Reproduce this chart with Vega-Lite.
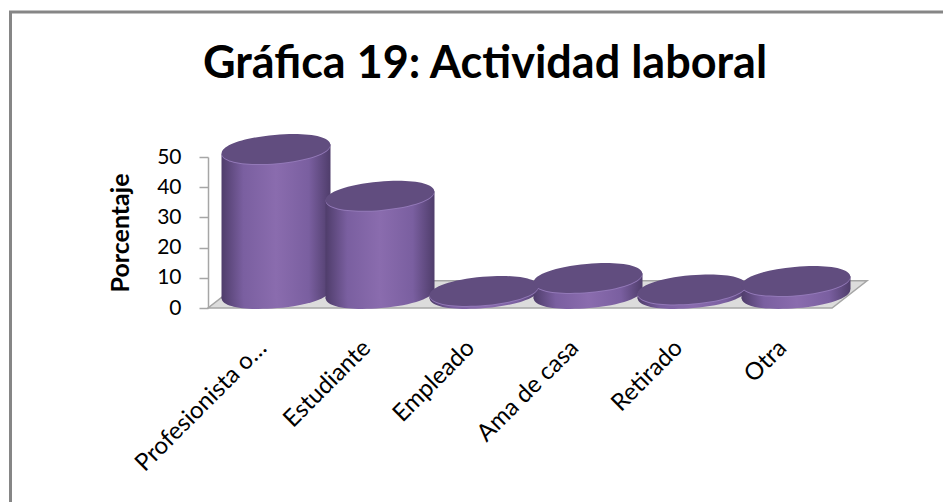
{
  "$schema": "https://vega.github.io/schema/vega-lite/v6.json",
  "width": 945, "height": 500,
  "autosize": "none",
  "padding": {"left": 10.5, "top": 12, "right": 0, "bottom": 0},
  "background": "white",
  "view": {"stroke": "#868686", "strokeWidth": 3, "fill": "white"},
  "title": {"text": "Gráfica 19: Actividad laboral", "font": "Lato", "fontSize": 45, "fontWeight": "bold", "color": "#000000", "anchor": "middle", "offset": -75, "dx": 2},
  "datasets": {
    "activity": [
      {"actividad": "Profesionista o…", "porcentaje": 48},
      {"actividad": "Estudiante", "porcentaje": 32.5},
      {"actividad": "Empleado", "porcentaje": 1},
      {"actividad": "Ama de casa", "porcentaje": 5.3},
      {"actividad": "Retirado", "porcentaje": 1.5},
      {"actividad": "Otra", "porcentaje": 4.3}
    ],
    "floor": [
      {"f": 0, "front": 0, "back": 0},
      {"f": 0.053, "front": 0, "back": 9},
      {"f": 0.947, "front": 0, "back": 9},
      {"f": 1, "front": 9, "back": 9}
    ]
  },
  "resolve": {"scale": {"x": "independent"}},
  "layer": [
    {
      "data": {"name": "floor"},
      "mark": {"type": "area", "fill": "#dcdcdc", "stroke": "#a6a6a6", "strokeWidth": 1.5},
      "encoding": {
        "x": {"field": "f", "type": "quantitative", "scale": {"range": [197.5, 856.5], "domain": [0, 1], "nice": false, "zero": false}, "axis": null},
        "y": {"field": "front", "type": "quantitative", "scale": {"domain": [0, 50], "range": [296, 145], "nice": false}, "axis": {"orient": "left", "offset": -197.5, "values": [0, 10, 20, 30, 40, 50], "grid": false, "domainColor": "#a6a6a6", "domainWidth": 1.5, "tickColor": "#a6a6a6", "tickWidth": 1.5, "tickSize": 9, "labelFont": "Lato", "labelFontSize": 21, "labelColor": "#000000", "labelPadding": 18, "title": "Porcentaje", "titleFont": "Lato", "titleFontSize": 25, "titleFontWeight": "bold", "titleColor": "#000000", "titlePadding": 23}},
        "y2": {"field": "back"}
      }
    },
    {
      "data": {"name": "activity"},
      "layer": [
        {
          "mark": {"type": "point", "filled": true, "opacity": 1, "size": 11881, "strokeWidth": 0, "angle": -5, "yOffset": -14,
            "shape": "M-1 0C-1-.15-.58-.26 0-.26S1-.15 1 0 .58 .26 0 .26-1 .15-1 0Z",
            "fill": {"gradient": "linear", "x1": 0, "x2": 1, "y1": 0, "y2": 0, "stops": [{"offset": 0, "color": "#4f3d6b"}, {"offset": 0.2, "color": "#7a5fa0"}, {"offset": 0.5, "color": "#8a6cae"}, {"offset": 0.8, "color": "#7a5fa0"}, {"offset": 1, "color": "#4f3d6b"}]}},
          "encoding": {
            "x": {"field": "actividad", "type": "nominal", "sort": null, "scale": {"type": "band", "range": [213.5, 837.5], "paddingInner": 0, "paddingOuter": 0}, "axis": {"orient": "bottom", "offset": -204, "domain": false, "ticks": false, "title": null, "labelAngle": -45, "labelAlign": "right", "labelBaseline": "middle", "labelFont": "Lato", "labelFontSize": 24, "labelColor": "#000000", "labelPadding": 36, "labelOffset": -13, "labelLimit": 300}},
            "y": {"datum": 0, "type": "quantitative"}
          }
        },
        {
          "mark": {"type": "bar", "width": 54.5, "xOffset": 27.25, "yOffset": -18.7, "y2Offset": -18.7,
            "fill": {"gradient": "linear", "x1": 0, "x2": 1, "y1": 0, "y2": 0, "stops": [{"offset": 0, "color": "#8a6cae"}, {"offset": 0.6, "color": "#7a5fa0"}, {"offset": 1, "color": "#4f3d6b"}]}},
          "encoding": {
            "x": {"field": "actividad", "type": "nominal", "sort": null},
            "y": {"field": "porcentaje", "type": "quantitative", "stack": null},
            "y2": {"datum": 0}
          }
        },
        {
          "mark": {"type": "bar", "width": 54.5, "xOffset": -27.25, "yOffset": -9.3, "y2Offset": -9.3,
            "fill": {"gradient": "linear", "x1": 0, "x2": 1, "y1": 0, "y2": 0, "stops": [{"offset": 0, "color": "#4f3d6b"}, {"offset": 0.4, "color": "#7a5fa0"}, {"offset": 1, "color": "#8a6cae"}]}},
          "encoding": {
            "x": {"field": "actividad", "type": "nominal", "sort": null},
            "y": {"field": "porcentaje", "type": "quantitative", "stack": null},
            "y2": {"datum": 0}
          }
        },
        {
          "mark": {"type": "point", "filled": true, "opacity": 1, "size": 11881, "strokeWidth": 0, "angle": -5, "yOffset": -13, "color": "#9379b8",
            "shape": "M-1 0C-1-.15-.58-.26 0-.26S1-.15 1 0 .58 .26 0 .26-1 .15-1 0Z"},
          "encoding": {
            "x": {"field": "actividad", "type": "nominal", "sort": null},
            "y": {"field": "porcentaje", "type": "quantitative", "stack": null}
          }
        },
        {
          "mark": {"type": "point", "filled": true, "opacity": 1, "size": 11881, "strokeWidth": 0, "angle": -5, "yOffset": -14, "color": "#614d7f",
            "shape": "M-1 0C-1-.15-.58-.26 0-.26S1-.15 1 0 .58 .26 0 .26-1 .15-1 0Z"},
          "encoding": {
            "x": {"field": "actividad", "type": "nominal", "sort": null},
            "y": {"field": "porcentaje", "type": "quantitative", "stack": null}
          }
        }
      ]
    }
  ]
}
